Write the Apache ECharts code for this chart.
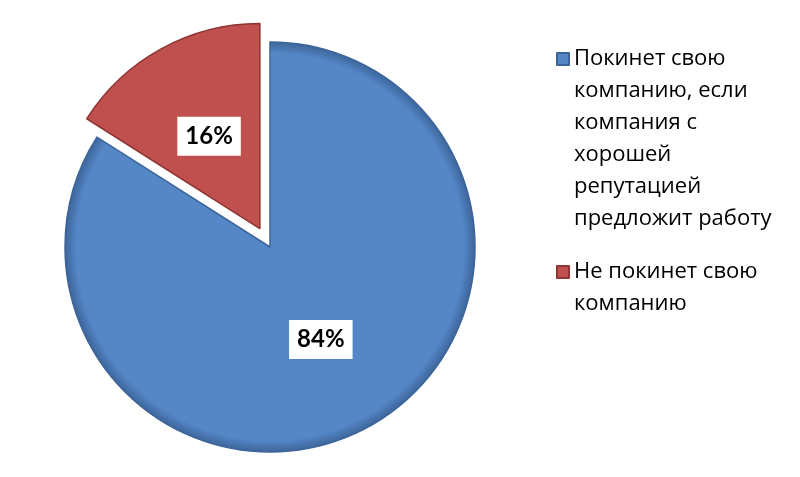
<!DOCTYPE html>
<html><head><meta charset="utf-8">
<script src="https://cdn.jsdelivr.net/npm/echarts@6/dist/echarts.min.js"></script>
<style>html,body{margin:0;padding:0;background:#fff}#c{width:800px;height:477px}</style>
</head><body><div id="c"></div>
<script>
const categories = ['Покинет свою компанию, если компания с хорошей репутацией предложит работу', 'Не покинет свою компанию'];
const legendLines = [
  ['Покинет свою', 'компанию, если', 'компания с', 'хорошей', 'репутацией', 'предложит работу'],
  ['Не покинет свою', 'компанию']
];
const values = [84, 16];
const labels = ['84%', '16%'];
const colors = ['#5587C7', '#C0504D'];
const edges = ['#3C6499', '#8E3432'];

const chart = echarts.init(document.getElementById('c'), null, {renderer: 'canvas'});
const LH = 32;
function mkLegend(i, iconY) {
  const n = legendLines[i].length;
  const lines = new Array(n - 1).fill(' ').concat(legendLines[i]);
  const block = lines.length * LH;
  return {
    orient: 'vertical', left: 556, top: Math.round(iconY - block / 2), padding: 0,
    data: [categories[i]], itemWidth: 12, itemHeight: 12, itemGap: 0, icon: 'rect',
    selectedMode: false,
    formatter: () => lines.join('\n'),
    textStyle: {fontFamily: 'Open Sans', fontSize: 22, color: '#000', lineHeight: LH}
  };
}
function fill(i) {
  return {
    type: 'radial', x: 0.5, y: 0.5, r: 0.5,
    colorStops: [{offset: 0, color: colors[i]}, {offset: 0.94, color: colors[i]}, {offset: 1, color: edges[i]}]
  };
}
chart.setOption({
  animation: false,
  legend: [mkLegend(0, 59), mkLegend(1, 272)],
  series: [{
    type: 'pie',
    center: [270, 247],
    radius: [0, 205],
    startAngle: 90,
    clockwise: true,
    selectedMode: 'multiple',
    selectedOffset: 21,
    avoidLabelOverlap: false,
    label: {
      position: 'inside',
      formatter: p => labels[p.dataIndex],
      fontFamily: 'Lato', fontSize: 24, fontWeight: 'bold', color: '#000',
      backgroundColor: '#fff', padding: [8, 8, 7, 8]
    },
    labelLine: {show: false},
    emphasis: {disabled: true},
    data: values.map((v, i) => ({
      name: categories[i], value: v, selected: i === 1,
      itemStyle: {color: i === 0 ? fill(0) : colors[i], borderColor: edges[i], borderWidth: 1.5}
    }))
  }]
});
</script></body></html>
